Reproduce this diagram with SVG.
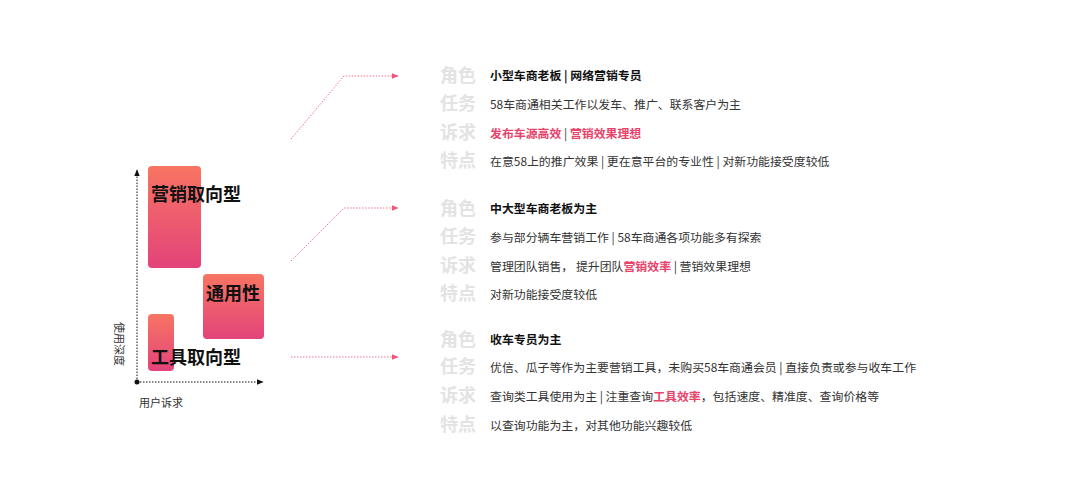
<svg xmlns="http://www.w3.org/2000/svg" width="1080" height="500" viewBox="0 0 1080 500">
<style>
text{font-family:"Noto Sans CJK SC","Noto Sans",sans-serif}
.big{font-size:18px;font-weight:bold;fill:#111}
.lab{font-size:18px;font-weight:bold;fill:#e3e3e3}
.t{font-size:11.9px;fill:#333}
.tb{font-size:11.9px;font-weight:bold;fill:#111}
.r{fill:#e8436b}
.con{fill:none;stroke:#f5758f;stroke-width:1;stroke-dasharray:1.5 1.5}
.ax{stroke:#111;stroke-width:1;stroke-dasharray:1.5 1.5;fill:none}
</style>
<defs>
<linearGradient id="g" x1="0" y1="0" x2="0" y2="1"><stop offset="0" stop-color="#f87562"/><stop offset="1" stop-color="#e3437a"/></linearGradient>
<marker id="ap" viewBox="0 0 10 10" refX="9" refY="5" markerWidth="7" markerHeight="7" orient="auto"><path d="M0,1 L10,5 L0,9z" fill="#f0557a"/></marker>
<marker id="ak" viewBox="0 0 10 10" refX="9" refY="5" markerWidth="7" markerHeight="7" orient="auto"><path d="M0,1 L10,5 L0,9z" fill="#111"/></marker>
</defs>
<g id="axes">
<path class="ax" d="M137,382 V170" marker-end="url(#ak)"/>
<path class="ax" d="M137,382 H263" marker-end="url(#ak)"/>
<circle cx="137" cy="382" r="2.5" fill="#111"/>
<text x="0" y="0" transform="translate(115,322) rotate(90)" class="t" style="font-size:11px">使用深度</text>
<text x="139" y="407" class="t" style="font-size:11px">用户诉求</text>
</g>
<g id="n1"><rect x="148" y="166" width="53" height="102" rx="4" fill="url(#g)"/><text x="151" y="201" class="big">营销取向型</text></g>
<g id="n2"><rect x="203" y="274" width="61" height="65" rx="4" fill="url(#g)"/><text x="206" y="300" class="big">通用性</text></g>
<g id="n3"><rect x="148" y="314" width="26" height="57" rx="4" fill="url(#g)"/><text x="151" y="364" class="big">工具取向型</text></g>
<g id="connectors">
<path class="con" d="M291,139 L344,76 H398" marker-end="url(#ap)"/>
<path class="con" d="M291,261 L344,208 H398" marker-end="url(#ap)"/>
<path class="con" d="M291,357 H398" marker-end="url(#ap)"/>
</g>
<g id="b1">
<text x="440" y="82" class="lab">角色</text><text x="490" y="80" class="tb">小型车商老板 | 网络营销专员</text>
<text x="440" y="110" class="lab">任务</text><text x="490" y="109" class="t">58车商通相关工作以发车、推广、联系客户为主</text>
<text x="440" y="139" class="lab">诉求</text><text x="490" y="138" class="t"><tspan class="r" font-weight="bold">发布车源高效</tspan> | <tspan class="r" font-weight="bold">营销效果理想</tspan></text>
<text x="440" y="167" class="lab">特点</text><text x="490" y="166" class="t">在意58上的推广效果 | 更在意平台的专业性 | 对新功能接受度较低</text>
</g>
<g id="b2">
<text x="440" y="215" class="lab">角色</text><text x="490" y="213" class="tb">中大型车商老板为主</text>
<text x="440" y="243" class="lab">任务</text><text x="490" y="242" class="t">参与部分辆车营销工作 | 58车商通各项功能多有探索</text>
<text x="440" y="272" class="lab">诉求</text><text x="490" y="271" class="t">管理团队销售， 提升团队<tspan class="r" font-weight="bold">营销效率</tspan> | 营销效果理想</text>
<text x="440" y="300" class="lab">特点</text><text x="490" y="299" class="t">对新功能接受度较低</text>
</g>
<g id="b3">
<text x="440" y="346" class="lab">角色</text><text x="490" y="344" class="tb">收车专员为主</text>
<text x="440" y="373" class="lab">任务</text><text x="490" y="372" class="t">优信、瓜子等作为主要营销工具，未购买58车商通会员 | 直接负责或参与收车工作</text>
<text x="440" y="402" class="lab">诉求</text><text x="490" y="401" class="t">查询类工具使用为主 | 注重查询<tspan class="r" font-weight="bold">工具效率</tspan>，包括速度、精准度、查询价格等</text>
<text x="440" y="431" class="lab">特点</text><text x="490" y="430" class="t">以查询功能为主，对其他功能兴趣较低</text>
</g>
</svg>
